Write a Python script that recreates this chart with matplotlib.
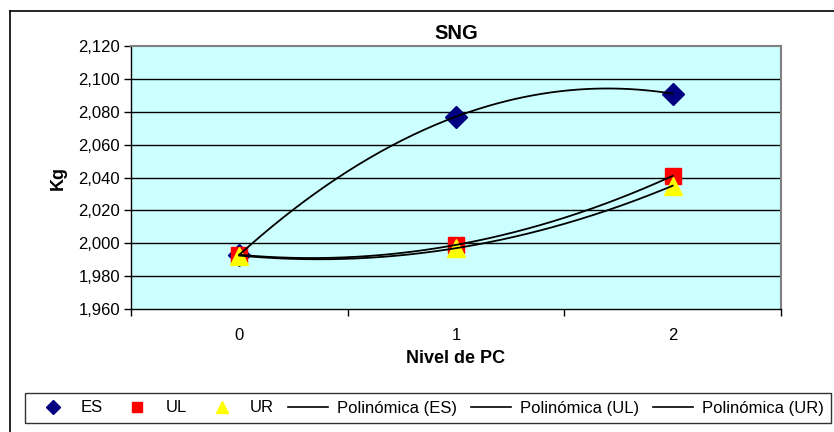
import numpy as np
import matplotlib
matplotlib.use("Agg")
import matplotlib.pyplot as plt
from matplotlib.lines import Line2D
from matplotlib.ticker import FuncFormatter

plt.rcParams['font.family'] = ['Liberation Sans', 'DejaVu Sans']

categories = ['0', '1', '2']
es_values = [1993, 2077, 2091]
ul_values = [1993, 1999, 2041]
ur_values = [1992.5, 1997, 2035]
y_ticks = [1960, 1980, 2000, 2020, 2040, 2060, 2080, 2100, 2120]

W, H = 834, 432
fig = plt.figure(figsize=(W / 100, H / 100), dpi=100)

# outer chart frame
fig.add_artist(Line2D([10 / W, 10 / W], [0, 1 - 11 / H], transform=fig.transFigure, color='black', lw=1.2))
fig.add_artist(Line2D([10 / W, 1], [1 - 11 / H, 1 - 11 / H], transform=fig.transFigure, color='black', lw=1.2))

left, right, top, bottom = 131, 781, 46, 309
ax = fig.add_axes([left / W, 1 - bottom / H, (right - left) / W, (bottom - top) / H])
ax.set_facecolor('#CCFFFF')

x = np.arange(len(categories))
ax.set_xlim(-0.5, len(categories) - 0.5)
ax.set_ylim(y_ticks[0], y_ticks[-1])
ax.set_yticks(y_ticks)
ax.yaxis.set_major_formatter(FuncFormatter(lambda v, p: f"{int(v):,}"))
for yt in y_ticks[1:-1]:
    ax.axhline(yt, color='black', lw=1.0, zorder=1)

ax.set_xticks(np.arange(-0.5, len(categories), 1.0))
ax.set_xticklabels([])
ax.set_xticks(x, minor=True)
ax.set_xticklabels(categories, minor=True)
ax.tick_params(axis='x', which='minor', length=0, pad=14, labelsize=12)
ax.tick_params(axis='x', which='major', length=5, direction='out', width=1)
ax.tick_params(axis='y', length=5, direction='out', width=1, labelsize=12, pad=3)

for s in ['top', 'right']:
    ax.spines[s].set_color('#808080')
    ax.spines[s].set_linewidth(1.5)
for s in ['left', 'bottom']:
    ax.spines[s].set_color('black')
    ax.spines[s].set_linewidth(1.0)

ax.plot(x, es_values, linestyle='none', marker='D', markersize=11, color='#000080', zorder=3)
ax.plot(x, ul_values, linestyle='none', marker='s', markersize=12, color='#FF0000', zorder=4)
ax.plot(x, ur_values, linestyle='none', marker='^', markersize=13, color='#FFFF00', zorder=5)

xs = np.linspace(0, len(categories) - 1, 200)
for vals in (es_values, ul_values, ur_values):
    c = np.polyfit(x, vals, 2)
    ax.plot(xs, np.polyval(c, xs), color='black', lw=1.3, zorder=6)

ax.set_title('SNG', fontsize=14.5, fontweight='bold', pad=5)
ax.set_ylabel('Kg', fontsize=13, fontweight='bold', labelpad=8)
ax.set_xlabel('Nivel de PC', fontsize=13, fontweight='bold', labelpad=5)

handles = [
    Line2D([], [], linestyle='none', marker='D', markersize=7, color='#000080'),
    Line2D([], [], linestyle='none', marker='s', markersize=7.5, color='#FF0000'),
    Line2D([], [], linestyle='none', marker='^', markersize=9, color='#FFFF00'),
    Line2D([], [], color='black', lw=1.2),
    Line2D([], [], color='black', lw=1.2),
    Line2D([], [], color='black', lw=1.2),
]
labels = ['ES', 'UL', 'UR', 'Polinómica (ES)', 'Polinómica (UL)', 'Polinómica (UR)']
leg = fig.legend(handles, labels, loc='lower left', ncol=6, mode='expand',
                 bbox_to_anchor=(25 / W, 1 - 423 / H, 806 / W, 36 / H), fontsize=12,
                 frameon=True, fancybox=False, shadow=False, edgecolor='black',
                 handlelength=2.4, handletextpad=0.5, columnspacing=0.5,
                 borderpad=0.45, borderaxespad=0)
leg.get_frame().set_linewidth(1.0)

fig.savefig('out.png', dpi=100)
